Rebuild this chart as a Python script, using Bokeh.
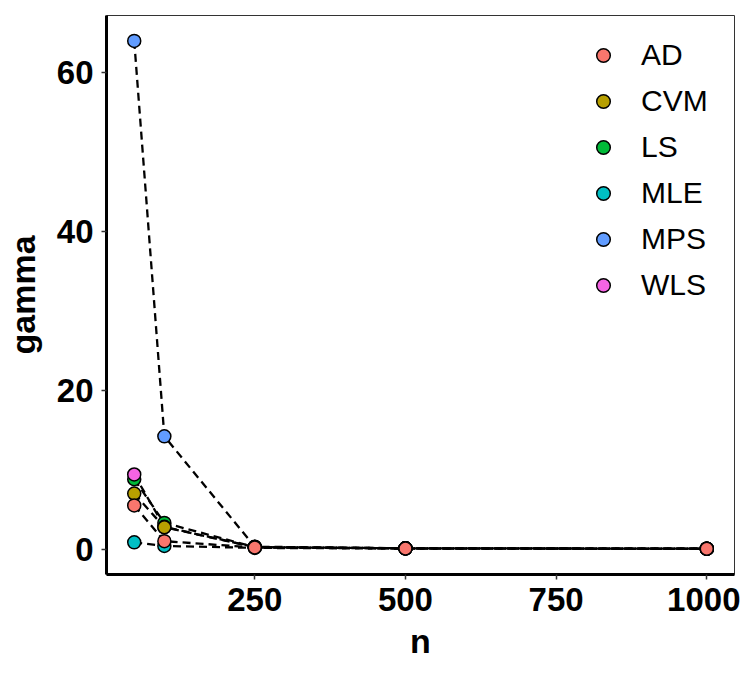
from bokeh.plotting import figure
from bokeh.models import Range1d, Legend, LegendItem, FixedTicker
from bokeh.embed import file_html
from bokeh.resources import INLINE

n = [50, 100, 250, 500, 1000]
methods = ["AD", "CVM", "LS", "MLE", "MPS", "WLS"]
AD = [5.5, 1.0, 0.2, 0.08, 0.05]
CVM = [7.0, 2.75, 0.25, 0.1, 0.05]
LS = [8.8, 3.3, 0.25, 0.1, 0.05]
MLE = [0.85, 0.4, 0.15, 0.07, 0.03]
MPS = [64.0, 14.2, 0.3, 0.1, 0.05]
WLS = [9.4, 2.8, 0.25, 0.1, 0.05]
values = {"AD": AD, "CVM": CVM, "LS": LS, "MLE": MLE, "MPS": MPS, "WLS": WLS}
colors = {"AD": "#F8766D", "CVM": "#B79F00", "LS": "#00BA38",
          "MLE": "#00BFC4", "MPS": "#619CFF", "WLS": "#F564E3"}
draw_order = ["MLE", "LS", "WLS", "MPS", "CVM", "AD"]
x_ticks = [250, 500, 750, 1000]
y_ticks = [0, 20, 40, 60]

FONT = "Liberation Sans"

p = figure(frame_width=628, frame_height=559, output_backend="svg", toolbar_location=None,
           x_range=Range1d(4, 1046), y_range=Range1d(-3.2, 67.2),
           min_border_left=97, min_border_right=6, min_border_top=15, min_border_bottom=84)
p.xgrid.visible = False
p.ygrid.visible = False
p.outline_line_color = "#333333"
p.outline_line_width = 1

for ax in (p.xaxis[0], p.yaxis[0]):
    ax.axis_line_width = 3
    ax.axis_line_color = "black"
    ax.major_tick_out = 5
    ax.major_tick_in = 0
    ax.major_tick_line_color = "#333333"
    ax.major_tick_line_width = 1.5
    ax.minor_tick_line_color = None
    ax.major_label_text_font = FONT
    ax.major_label_text_font_style = "bold"
    ax.major_label_text_font_size = "33px"
    ax.major_label_text_color = "black"
    ax.axis_label_text_font = FONT
    ax.axis_label_text_font_style = "bold"
    ax.axis_label_text_font_size = "34px"
    ax.axis_label_text_color = "black"

p.xaxis.ticker = FixedTicker(ticks=x_ticks)
p.yaxis.ticker = FixedTicker(ticks=y_ticks)
p.xaxis.axis_label = "n"
p.yaxis.axis_label = "gamma"
p.xaxis.major_label_standoff = 8
p.yaxis.major_label_standoff = 8
p.xaxis.axis_label_standoff = 8
p.yaxis.axis_label_standoff = 12

for m in methods:
    p.line(n, values[m], line_color="black", line_width=2.3, line_dash="8 5")

renderers = {}
for m in draw_order:
    renderers[m] = p.scatter(n, values[m], size=13, fill_color=colors[m],
                             line_color="black", line_width=1.5)

legend = Legend(items=[LegendItem(label=m, renderers=[renderers[m]]) for m in methods],
                location=(480, 272), padding=0, margin=0, spacing=12,
                border_line_color=None, background_fill_alpha=0,
                label_text_font=FONT, label_text_font_size="30px",
                label_text_color="black",
                label_standoff=21, glyph_width=34, glyph_height=34)
p.add_layout(legend)

open("out.html", "w").write(file_html(p, INLINE))
